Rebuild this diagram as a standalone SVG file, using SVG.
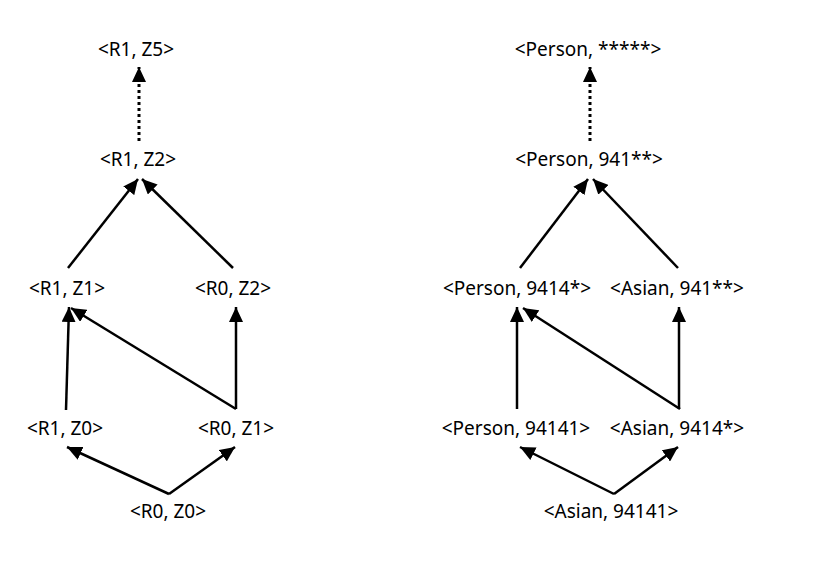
<svg xmlns="http://www.w3.org/2000/svg" width="821" height="570" viewBox="0 0 821 570">
<style>
text{font-family:"Noto Sans","Liberation Sans",sans-serif;font-size:19px;fill:#000;text-anchor:middle}
.e{stroke:#000;stroke-width:2.5;fill:none;marker-end:url(#ah)}
.d{stroke:#000;stroke-width:3;fill:none;stroke-dasharray:3 3;marker-end:url(#ah)}
</style>
<defs>
<marker id="ah" markerUnits="userSpaceOnUse" markerWidth="16" markerHeight="14" refX="15" refY="7" orient="auto"><path d="M0,0 L15,7 L0,14 z" fill="#000"/></marker>
</defs>
<rect width="821" height="570" fill="#fff"/>
<g id="connectors">
<path class="d" d="M139,141 L139,67"/>
<path class="e" d="M68,268 L138,179"/>
<path class="e" d="M233,268 L142,179"/>
<path class="e" d="M66,410 L69,307"/>
<path class="e" d="M236,409 L71,308"/>
<path class="e" d="M236,409 L236,307"/>
<path class="e" d="M169,494 L67,447"/>
<path class="e" d="M169,494 L235,447"/>
<path class="d" d="M590,141 L590,67"/>
<path class="e" d="M520,268 L588,179"/>
<path class="e" d="M678,268 L593,179"/>
<path class="e" d="M517,409 L517,307"/>
<path class="e" d="M680,409 L523,308"/>
<path class="e" d="M679,409 L679,307"/>
<path class="e" d="M614,494 L520,447"/>
<path class="e" d="M614,494 L678,447"/>
</g>
<g id="n_r1z5"><text x="136" y="56">&lt;R1, Z5&gt;</text></g>
<g id="n_r1z2"><text x="138" y="166">&lt;R1, Z2&gt;</text></g>
<g id="n_r1z1"><text x="67" y="295">&lt;R1, Z1&gt;</text></g>
<g id="n_r0z2"><text x="233" y="295">&lt;R0, Z2&gt;</text></g>
<g id="n_r1z0"><text x="65" y="435">&lt;R1, Z0&gt;</text></g>
<g id="n_r0z1"><text x="236" y="435">&lt;R0, Z1&gt;</text></g>
<g id="n_r0z0"><text x="168" y="518">&lt;R0, Z0&gt;</text></g>
<g id="n_p5"><text x="588" y="56">&lt;Person, *****&gt;</text></g>
<g id="n_p941"><text x="589" y="166">&lt;Person, 941**&gt;</text></g>
<g id="n_p9414"><text x="517" y="295">&lt;Person, 9414*&gt;</text></g>
<g id="n_a941"><text x="677" y="295">&lt;Asian, 941**&gt;</text></g>
<g id="n_p94141"><text x="516" y="435">&lt;Person, 94141&gt;</text></g>
<g id="n_a9414"><text x="677" y="435">&lt;Asian, 9414*&gt;</text></g>
<g id="n_a94141"><text x="611" y="518">&lt;Asian, 94141&gt;</text></g>
</svg>
